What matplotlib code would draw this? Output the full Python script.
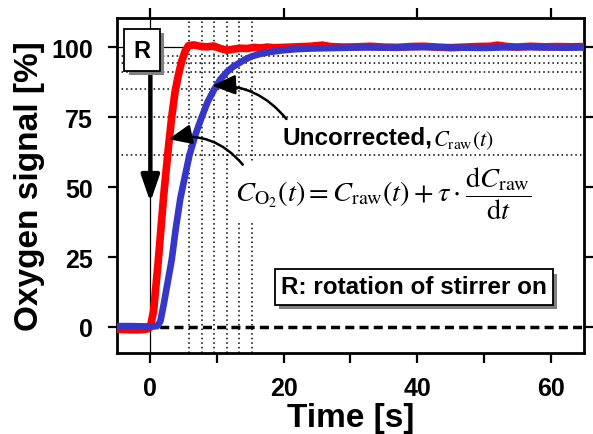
import matplotlib
matplotlib.use('Agg')
import matplotlib.pyplot as plt
import matplotlib.patheffects as pe

# ---------------- data ----------------
red_t = [-5, -4, -3, -2, -1, -0.3, 0, 0.5, 1.2, 2.0, 2.7, 3.2, 3.7, 4.2, 4.7, 5.2, 5.7,
         6.5, 7.5, 8.5, 9.5, 10.5, 11.5, 12.5, 13.5, 14.5, 15.5, 16.5, 17.5, 18.5, 20,
         22, 24, 25.8, 27, 29, 31, 33, 35, 37, 39, 41, 43, 45, 47, 49, 51, 52, 53.5,
         55, 57, 59, 61, 63, 65]
red_v = [-0.8, -0.9, -1.0, -1.0, -0.9, -0.6, 0, 6, 24, 47, 64, 75, 84, 90, 95, 98.5, 100.5,
         100.8, 100.3, 100.1, 100.4, 99.5, 98.9, 99.3, 99.6, 99.5, 99.9, 99.7, 100.0, 99.8, 99.9,
         100.1, 100.3, 100.7, 100.2, 100.0, 100.1, 100.3, 100.0, 99.9, 100.2, 100.3, 100.0, 99.8,
         100.0, 100.2, 100.3, 100.7, 100.2, 100.0, 100.3, 100.1, 100.2, 100.1, 100.2]

blue_t = [-5, -3, -1, 0, 1.0, 1.5, 2.0, 2.6, 3.2, 3.8, 4.5, 5.2, 5.86, 6.8, 7.7, 8.6, 9.6,
          10.5, 11.5, 12.4, 13.3, 14.2, 15.2, 16.5, 18, 20, 22, 24, 26, 28, 30, 32, 35, 38,
          41, 44, 47, 50, 53, 56, 59, 62, 65]
blue_v = [0.3, 0.3, 0.2, 0.2, 0.3, 2, 8, 16, 24, 35, 46, 54, 61.4, 69, 75, 80.5, 85,
          88.5, 91.2, 93, 94.3, 95.6, 96.7, 97.6, 98.3, 98.9, 99.3, 99.5, 99.6, 99.7, 99.8,
          99.9, 99.8, 99.9, 100.0, 99.9, 99.8, 99.7, 99.9, 100.0, 99.9, 99.8, 99.9]

marker_times = [5.86, 7.7, 9.6, 11.5, 13.3, 15.2]
marker_levels = [61.4, 75.1, 85.2, 91.2, 94.3, 96.7]

xticks = [0, 20, 40, 60]
minor_xticks = [10, 30, 50]
yticks = [0, 25, 50, 75, 100]

# ---------------- style ----------------
plt.rcParams['font.family'] = ['Liberation Sans', 'DejaVu Sans']
plt.rcParams['mathtext.fontset'] = 'stix'

fig = plt.figure(figsize=(5.93, 4.35), dpi=100)
ax = fig.add_axes([0.1973, 0.1862, 0.7875, 0.7701])

ax.set_xlim(-5, 65)
ax.set_ylim(-9.3, 110.4)

# guide lines
for t in marker_times:
    ax.axvline(t, ls=(0, (1, 2)), lw=1.1, color='black', zorder=0.5)
for v in marker_levels:
    ax.axhline(v, ls=(0, (1, 2)), lw=1.1, color='black', zorder=0.5)
ax.axvline(0, lw=0.9, color='black', zorder=0.6)
ax.axhline(100, lw=0.9, color='black', zorder=0.6)
ax.axhline(0, ls=(0, (2.6, 1.5)), lw=2.5, color='black', zorder=0.7)

# curves
ax.plot(red_t, red_v, color='#FF0000', lw=5.5, solid_capstyle='butt', zorder=3)
ax.plot(blue_t, blue_v, color='#3636C8', lw=4.8, solid_capstyle='butt', zorder=4)

# ticks
ax.set_xticks(xticks)
ax.set_xticks(minor_xticks, minor=True)
ax.set_yticks(yticks)
ax.tick_params(axis='both', which='both', direction='out', width=1.6,
               top=True, right=True, labelsize=18)
ax.tick_params(axis='x', which='both', length=7.5, pad=9)
ax.tick_params(axis='x', which='minor', top=False)
ax.tick_params(axis='y', length=6.5, pad=11)
for lab in ax.get_xticklabels() + ax.get_yticklabels():
    lab.set_fontweight('bold')
for s in ax.spines.values():
    s.set_linewidth(2.0)

ax.set_xlabel('Time [s]', fontsize=24, fontweight='bold')
ax.set_ylabel('Oxygen signal [%]', fontsize=24, fontweight='bold')
ax.xaxis.set_label_coords(0.5, -0.146)
ax.yaxis.set_label_coords(-0.154, 0.5)

# R box + arrow
tr = ax.text(-1.2, 98.9, 'R', ha='center', va='center', fontsize=17, fontweight='bold',
             bbox=dict(boxstyle='square,pad=0.4', fc='white', ec='black', lw=1.3), zorder=7)
tr.get_bbox_patch().set_path_effects([
    pe.SimplePatchShadow(offset=(3, -3), shadow_rgbFace='#808080', alpha=1.0), pe.Normal()])
ax.annotate('', xy=(0, 44.6), xytext=(0, 91),
            arrowprops=dict(arrowstyle='-|>,head_length=1.6,head_width=0.55', lw=3.2,
                            color='black', shrinkA=0, shrinkB=0, mutation_scale=10),
            zorder=6)

# stirrer text box
ts = ax.text(39.5, 14.3, 'R: rotation of stirrer on', ha='center', va='center',
             fontsize=17.5, fontweight='bold',
             bbox=dict(boxstyle='square,pad=0.25', fc='white', ec='black', lw=1.3), zorder=7)
ts.get_bbox_patch().set_path_effects([
    pe.SimplePatchShadow(offset=(3, -3), shadow_rgbFace='#808080', alpha=1.0), pe.Normal()])

# uncorrected label
ax.text(19.8, 65.4, 'Uncorrected,', ha='left', va='baseline', fontsize=17.5,
        fontweight='bold', zorder=7)
ax.text(42.4, 65.0, r'$C_{\mathrm{raw}}\left(t\right)$', ha='left', va='baseline',
        fontsize=16, fontweight='normal', zorder=7)
ax.annotate('', xy=(9.3, 86.2), xytext=(20.4, 74.3),
            arrowprops=dict(arrowstyle='-|>,head_length=1.4,head_width=0.6', lw=1.8,
                            color='black', shrinkA=0, shrinkB=0, mutation_scale=10,
                            connectionstyle='arc3,rad=0.25'), zorder=8)

# formula
ax.text(12.7, 48.0,
        r'$C_{\mathrm{O}_2}\left(t\right)=C_{\mathrm{raw}}\left(t\right)+\tau\cdot\dfrac{\mathrm{d}C_{\mathrm{raw}}}{\mathrm{d}t}$',
        ha='left', va='center', fontsize=20.5, fontweight='normal', zorder=7,
        bbox=dict(boxstyle='square,pad=0.08', fc='white', ec='none'))
ax.annotate('', xy=(2.73, 67.1), xytext=(13.85, 58.0),
            arrowprops=dict(arrowstyle='-|>,head_length=1.4,head_width=0.6', lw=1.8,
                            color='black', shrinkA=0, shrinkB=0, mutation_scale=10,
                            connectionstyle='arc3,rad=0.3'), zorder=8)

fig.savefig('out.png', dpi=100)
